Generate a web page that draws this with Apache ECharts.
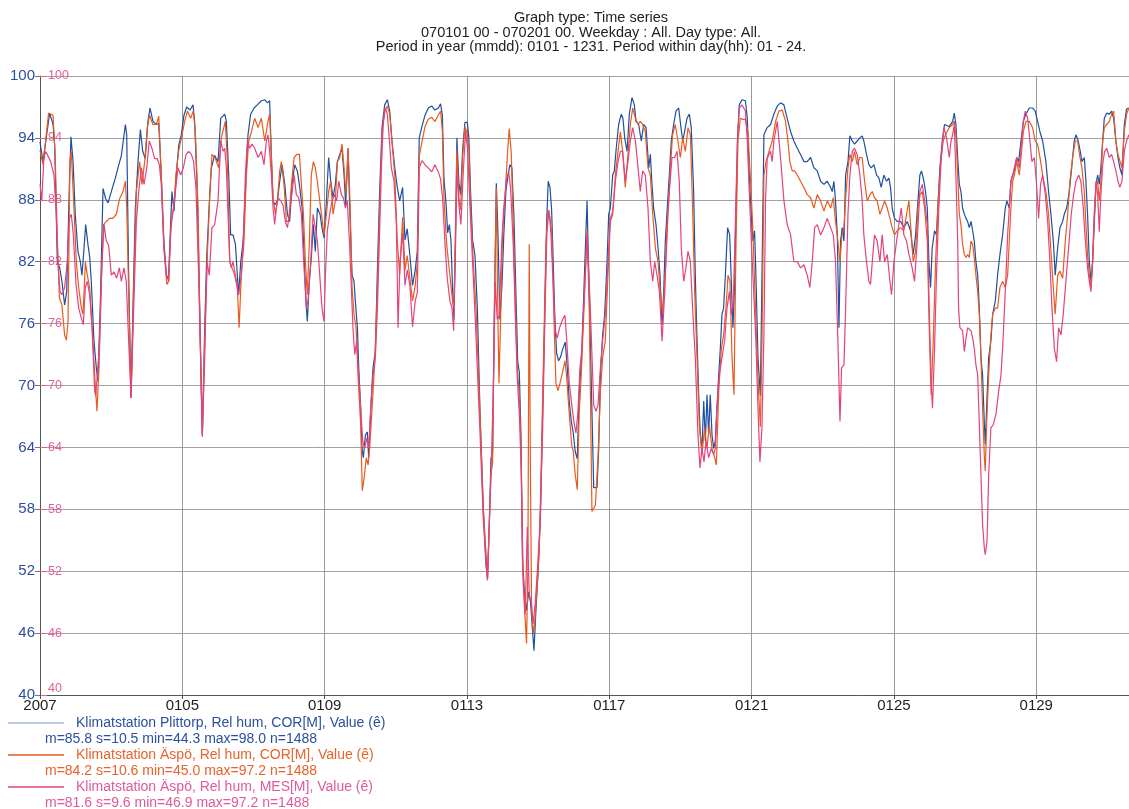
<!DOCTYPE html>
<html>
<head>
<meta charset="utf-8">
<script src="https://cdn.jsdelivr.net/npm/echarts@6/dist/echarts.min.js"></script>
<style>
html,body{margin:0;padding:0;background:#ffffff;overflow:hidden;}
#chart{width:1129px;height:809px;}
</style>
</head>
<body>
<div id="chart"></div>
<script>
// ---------- texts ----------
const titleLines = [
  'Graph type: Time series',
  '070101 00 - 070201 00. Weekday : All. Day type: All.',
  'Period in year (mmdd): 0101 - 1231. Period within day(hh): 01 - 24.'
];
const tickLabels = ['2007', '0105', '0109', '0113', '0117', '0121', '0125', '0129'];
const yTickValues = [40, 46, 52, 58, 64, 70, 76, 82, 88, 94, 100];
const seriesNames = [
  'Klimatstation Plittorp, Rel hum, COR[M], Value (\u00ea)',
  'Klimatstation \u00c4sp\u00f6, Rel hum, COR[M], Value (\u00ea)',
  'Klimatstation \u00c4sp\u00f6, Rel hum, MES[M], Value (\u00ea)'
];
const seriesStats = [
  'm=85.8 s=10.5 min=44.3 max=98.0 n=1488',
  'm=84.2 s=10.6 min=45.0 max=97.2 n=1488',
  'm=81.6 s=9.6 min=46.9 max=97.2 n=1488'
];

// ---------- data: [hours since 2007-01-01 00:00, relative humidity %] ----------
const plittorpCor = [
[0,93.6],[2,91.7],[6.5,96.4],[8.8,95.3],[9.9,93.3],[11.7,82],[13.3,81.4],[14.8,80.1],[16.6,77.8],[18,79.1],[20,90.4],[20.9,94.1],[22.3,91.7],[23.8,86.5],[25.6,83],[27.2,82],[28.3,80.7],[29.7,83.3],[30.8,85.6],[32.4,83.6],[33.5,82.5],[34.6,80.1],[36.4,74.3],[38,71.7],[39.1,70.4],[40.9,79.1],[42.5,89.1],[44.3,88.1],[45.9,87.7],[48.1,88.8],[50.8,90.1],[52.6,91.1],[54.9,92.3],[57.6,95.3],[58.5,94.3],[59.8,80.7],[61.4,68.8],[62.7,77.5],[64.3,87.2],[66.1,91.7],[67.7,94.8],[69.3,92.7],[71,92],[72.8,95.6],[74.2,96.9],[76.2,95.6],[78.5,95.3],[80.1,95.4],[81.8,90.4],[83.6,83.9],[85.4,80.4],[86.8,80.7],[88.1,85.6],[89,88.8],[90.4,86.9],[91.9,90.4],[93.6,93.3],[95.3,94.3],[97.1,96.2],[98.9,97],[101.2,96.7],[103.2,97.2],[104.3,95.6],[106.1,88.8],[107.7,77.5],[109.5,65.2],[111.1,75.6],[112.4,82.3],[114.5,88.5],[115.6,91.1],[117.8,92.3],[120.1,91.7],[121.9,95.9],
[124.6,96.3],[125.7,95.6],[127.3,90.4],[128.6,84.6],[130.2,84.6],[131.8,83.7],[133.1,80.7],[134,78.8],[135.4,82],[137,84],[138.5,88.8],[140.3,94.3],[142.1,96.3],[144.4,96.9],[146.6,97.2],[149.3,97.6],[151.6,97.7],[153.4,97.4],[154.9,97.6],[156.1,92.1],[157.2,87.9],[158.3,87.5],[160.1,87.9],[161.7,89.8],[163.3,91.4],[165.1,89.5],[166.9,86.6],[168.4,85.9],[170,89.5],[171.8,91.4],[173.6,90.8],[175.2,89.2],[176.8,87.2],[178.1,82.7],[179.4,78.2],[180.3,76.2],[181.7,80.1],[183,82.4],[184.4,85.6],[185.7,83],[187.1,87.2],[188.9,86.6],[190.2,85.3],[191.6,84.3],[193.2,87.9],[194.7,92.1],[196.1,89.8],[197.7,88.2],[199.2,89.5],[200.6,91.7],[202.2,92.4],[203.7,93],[205.1,90.4],[206.2,87.5],[207.8,93],[208.9,87.2],[210.5,80.7],[211.8,80.1],[212.7,78.2],[214.1,75.6],[215,71.7],[216.3,67.8],[217.2,63.9],[218.1,63],[219.5,65.2],[220.8,65.5],[221.7,63],[223.1,67.8],[224.6,71.7],[226.2,73.3],[227.5,80.7],[229.1,88.8],[230.7,95],[232.5,97.2],[234.3,97.7],[235.9,96.6],[237.4,93.7],[239.3,91.1],[241,89.2],[242.6,87.9],
[244.6,89.2],[246.2,84.1],[247.7,85.2],[249.5,82.6],[251.3,79.7],[253.1,81.2],[254.5,83],[255.8,94],[257.6,95.1],[259.7,96.2],[261.9,96.9],[264.2,97.1],[266.4,96.7],[268.7,96.9],[270.2,97.3],[271.4,96.2],[272.5,90],[273.8,87.8],[275,84.8],[276.1,85.6],[277.2,84.1],[278.3,79.3],[279.2,76.4],[280.3,83.7],[281.2,94],[282.6,89.6],[283.7,88.5],[285.1,92.9],[286.6,95.5],[288.2,95.5],[289.3,94],[290.5,88.5],[291.8,84.1],[293.4,82.6],[295,77.5],[296.8,67.3],[299,58.1],[300.8,52.6],[301.9,51.3],[303,56.3],[304.2,62.9],[305.3,63.6],[306.4,76.4],[307.8,89.6],[308.9,84.8],[310.2,76.4],[311.6,79.7],[312.9,84.8],[314.3,88.9],[315.6,90.3],[317,91.4],[318.3,91.1],[319.7,86.3],[321,79],[322.2,72.4],[323.3,71.3],[324.4,65.4],[325.5,53],[326.9,49.7],[328.2,48.2],[329.6,50],[330.9,49],[332,46.7],[333.2,44.3],[334.5,48.2],[336.1,52.2],[337.7,58.1],[339,67.3],[340.4,76.4],[341.7,85.6],[342.8,89.8],[344,89.2],[345.1,87],[346.2,81.9],[347.3,76.4],[348.5,73.1],[349.8,72.4],[351.2,72.8],[352.5,73.5],[354.3,74.2],[355.7,71.7],[357,68.4],[358.4,66.5],[359.7,65.4],[361,63.6],[362.4,62.9],[363.7,69.1],[365.3,72.8],
[369,87.9],[371.2,74.3],[373.5,60.1],[375.7,60.1],[376.8,63.6],[378,71],[379.5,74.9],[380.9,76.9],[382.5,82],[383.6,86.6],[384.7,87.2],[386.3,90.4],[387.4,90.8],[388.5,92.7],[390.3,95.3],[392.1,96.3],[393.2,95.9],[394.4,94],[396,92.7],[397.5,96.3],[399.3,97.9],[400.9,97.2],[402,95.6],[403.8,95.3],[405.6,93.7],[407.2,95.3],[408.8,95],[410.6,91.1],[411.7,92.4],[412.8,89.5],[413.9,87.2],[415.5,85.6],[416.9,83.3],[418.2,80.7],[419.6,75.9],[420.7,79.1],[421.8,84],[423.1,87.2],[424.5,90.4],[425.8,93.7],[427.4,95.3],[429,96.6],[430.8,96.9],[432.1,95.3],[433.5,93.7],[434.8,94.6],[436.4,95.9],[438,96.3],[439.3,95],[440.9,88.8],[442,80.7],[443.2,74.3],[444.3,69.1],[445.4,65.2],[446.5,63.9],[447.7,68.5],[448.8,64.6],[449.9,69.1],[451,65.2],[452.1,69.1],[453.3,65.2],[454.4,63.9],[455.5,64.6],[456.6,67.8],[457.8,71],[458.9,73.6],[460,76.9],[461.1,77.5],[462.3,80.7],[463.8,85.3],[465.2,84.6],[466.3,80.1],[467.4,75.6],[468.6,80.1],[469.5,87.2],[470.6,94.3],[471.7,97.2],[473.5,97.7],[475.8,97.6],[477.1,95.9],[478.4,90.4],[479.8,86.6],[480.9,84],[482,85],[482.9,80.7],[484.3,72.7],[485.9,69],[487,80.7],[488.3,94.3],
[490.5,95],[492.8,95.3],[495,96.3],[497.3,97.1],[499.5,97.4],[501.8,97.2],[504,95.9],[506.3,94.6],[508.5,93.7],[510.8,93],[513,92.4],[515.3,91.7],[517.5,91.7],[519.8,92.1],[522,91.1],[524.3,90.8],[526.5,89.8],[528.8,89.5],[531,89.8],[533.3,89.2],[534.4,88.8],[535.5,89.8],[536.6,87.9],[537.8,84.6],[538.9,75.6],[540,84],[541.1,85.3],[542.3,84],[543.4,90.4],[545,91.7],[546.3,94.2],[547.9,93.7],[549.4,93.4],[551.2,93.7],[553,94],[554.6,94.2],[555.7,93.7],[557.5,92.4],[559.1,91.4],[560.7,91.1],[562.5,91.4],[564.3,90.4],[565.9,90.1],[567.4,89.2],[569.2,90.4],[571,89.8],[572.6,90.1],[573.7,89.2],[574.8,87.2],[576.4,86.2],[578.2,85.9],[580.5,85.9],[582.7,85.3],[585,85.9],[587.2,85],[589,82.7],[590.6,84.6],[592.2,87.9],[593.5,90.4],[594.6,90.8],[596.2,89.8],[597.3,88.8],[598.5,87.2],[599.6,82],[600.7,79.5],[601.8,83.3],[603.4,85],[604.7,84.6],[605.6,87.2],[607,91.1],[608.6,93.7],[610.1,95.3],
[611.1,95.3],[613.3,95.1],[615.6,95.6],[616.7,96.4],[617.8,95.3],[619,92.1],[620.1,89.5],[621.2,88.8],[622.3,87.2],[623.5,86.6],[624.6,86.2],[625.7,85.9],[626.8,85.3],[628,85.9],[629.1,85],[630.2,84],[631.3,82],[632.5,80.7],[633.6,77.5],[634.7,72.7],[635.8,71],[637,66.2],[637.6,64.3],[638.5,67.8],[639.9,72.7],[641.4,74.3],[642.6,76.9],[644.4,78.2],[645.9,80.7],[647.5,82.7],[649.3,84.6],[651.1,87.2],[652.2,87.9],[653.8,87.2],[654.9,89.8],[656.1,90.4],[657.2,90.8],[658.8,92.1],[660.1,91.7],[661.7,93.7],[663.3,95.6],[665,96.3],[667.3,96.9],[669.5,96.9],[671.3,96.6],[672.9,95.6],[674.5,94.6],[676.3,93.7],[678.5,91.7],[680.3,88.8],[681.9,86.6],[683.5,84],[684.8,80.7],[686.4,83.3],[688,85.3],[689.8,85.9],[690.9,86.6],[692.5,87.2],[694.3,88.8],[696.1,91.4],[697.6,93.7],[698.8,94.3],[700.3,93.7],[701.7,92.7],[702.8,91.7],[704.4,92.1],[705.5,89.8],[706.6,86.6],[707.8,82],[708.9,80.1],[710,82],[711.1,85.6],[712.3,89.5],[713.4,90.4],[714.5,89.5],[715.6,91.1],[716.8,93.7],[717.9,95.9],[719.5,96.4],[721.3,96.3],[722.8,96.6],[724.2,95.9],[725.7,93.7],[727.1,92.1],[728.4,91.1],[729.8,90.4],[731.4,95.3],[732.9,96.8],[734.5,96.9]
];

const aspoCor = [
[0,92.8],[2,91.4],[5.8,96.4],[8.8,96.2],[10.3,92],[11.7,84],[13.1,78.5],[14.8,77.8],[16.6,74.9],[17.8,74.4],[18.9,76.2],[20.2,91.7],[21.1,92.7],[22.9,87.2],[24.5,82],[26.1,79.5],[27.9,77.5],[29,76.9],[30.6,82],[31.9,80.7],[33.5,79.5],[35.1,75.9],[36.9,71],[38.4,67.5],[39.8,71.7],[41.4,80.1],[42.9,85.6],[44.7,85.9],[46.9,86.2],[49.2,86.2],[51.5,86.6],[53.7,88.1],[56,88.8],[57.6,89.8],[58.5,87.2],[59.8,79.1],[61.4,68.8],[63.2,79.1],[65,88.8],[67.2,91.7],[68.8,89.5],[70.6,91.7],[72.4,95],[73.9,96.2],[76.2,95.3],[78.5,95.3],[80.1,96.1],[81.8,90.4],[83.6,83.3],[85.6,79.8],[86.8,80.1],[88.6,86.2],[90.2,87.2],[91.7,90.4],[93.5,92.7],[95.8,94.3],[97.6,95.6],[99.4,96.6],[101.6,95.9],[103.4,96.6],[104.8,94.6],[106.6,87.2],[108.1,74.3],[109.5,65],[111.1,74.3],[112.9,82.7],[114.6,88.8],[116,92.4],[118.3,92],[120.5,91.1],[122.3,94],
[125,95.6],[126.4,91.7],[128,82],[129.5,81.4],[131.3,80.7],[133.1,79.5],[134.3,75.6],[135.8,80.7],[137.6,84],[139.2,90.4],[140.8,93.7],[142.6,94.6],[144.8,95.9],[147.1,95],[149.3,95.9],[151.6,93.7],[153.4,95.3],[154.9,96.3],[156.1,92.1],[157.2,88.2],[158.8,86.6],[160.1,87.9],[161.7,90.8],[162.8,91.7],[164.6,89.5],[166.2,85.9],[167.8,85.9],[169.6,89.5],[171.4,92.1],[173.2,92.4],[175,92.4],[176.3,89.5],[177.7,86.6],[179,82],[180.3,78.8],[181.7,84],[183,90.4],[184.4,91.7],[185.7,91.1],[187.1,89.8],[188.7,87.9],[190.2,86.2],[191.6,84.6],[193.2,86.6],[194.7,88.8],[196.1,89.8],[197.7,86.6],[199.2,87.9],[200.6,91.7],[202.2,92.1],[203.7,93.4],[205.1,91.1],[206.4,88.5],[207.8,93],[209.1,87.9],[210.5,79.5],[211.8,76.9],[213.2,75.6],[214.5,71],[216.3,66.2],[217.4,59.8],[218.6,61],[220.1,63],[221.3,62.3],[222.4,64],[224,67.8],[225.8,72.3],[227.5,79.1],[229.1,87.2],[230.7,94.3],[232.5,96.6],[234.3,97.1],[235.9,96.3],[237.4,93.7],[239.3,90.4],[241,84],[242.6,80.7],
[244.6,86.3],[246.2,81.2],[247.7,82.6],[249.5,80.4],[251.3,78.2],[253.1,79.7],[254.5,81.9],[255.8,92.2],[257.6,93.6],[259.7,95.1],[261.9,95.8],[264.2,96],[266.4,95.6],[268.7,96.2],[270.2,96.6],[271.4,94.7],[272.5,88.1],[274.3,83.7],[276.1,81.2],[277.2,79.7],[278.3,78.2],[279.2,77.5],[280.3,85.6],[281.2,92.9],[282.6,88.1],[283.7,87],[285.1,92.2],[286.6,95.1],[288.2,94.4],[289.3,92.9],[290.5,87],[292.3,81.9],[294.1,77.5],[296.8,67.3],[299,58.1],[301.9,51.3],[303,56.3],[304.2,61.4],[305.3,62.5],[306.4,76.4],[307.8,89.2],[308.7,78.2],[309.6,70.2],[310.7,76.4],[312,84.8],[313.6,88.1],[315.2,92.2],[316.5,94.9],[317.9,92.5],[319.2,85.6],[320.6,78.2],[321.9,71.7],[323.3,69.1],[324.4,64.3],[325.5,52.6],[326.9,48.2],[328.2,45],[329.1,52.6],[330,83.7],[330.7,63.6],[331.6,48.2],[332.7,46],[333.8,47.1],[335.4,50.8],[336.8,54.1],[338.3,63.6],[339.9,74.6],[341.3,83.7],[342.6,87],[344,86.3],[345.3,84.5],[346.7,76.4],[348,70.2],[349.4,69.5],[350.7,70.2],[352.5,71.3],[354.1,72.4],[355.2,70.9],[357,67.3],[358.6,64.3],[359.7,63.6],[361,61.4],[362.4,59.9],[363.7,67.3],[365.3,71.7],
[369,85],[370.5,77.5],[372.3,57.8],[374.6,58.4],[376.4,63],[378,69.4],[379.5,72.7],[381.3,74.3],[383.1,80.7],[384.7,85.9],[386.3,86.6],[388.1,90.4],[389.9,92.7],[391.5,94.6],[393,92.7],[394.8,89.2],[396.6,92.4],[398.2,95.3],[399.8,96.9],[401.6,95.9],[403.4,95.3],[404.9,95.6],[406.5,95.3],[408.3,94.6],[410.1,91.1],[411.7,90.4],[413.3,86.6],[415.1,83.3],[416.9,82],[418.4,79.1],[420,76.9],[421.8,80.7],[423.6,86.6],[425.2,91.1],[426.7,94.3],[428.5,95.3],[430.3,93.7],[431.9,92.1],[433.5,94],[435.3,92.7],[437.1,95],[438.7,94.3],[440.2,87.2],[441.6,79.1],[443.2,72.7],[444.7,66.2],[446.5,63.3],[448.3,65.9],[449.9,63.9],[451.5,66.2],[453.3,63.9],[455.1,63],[456.2,62.3],[457.8,69.4],[459.6,73.6],[461.1,74.9],[462.7,77.5],[464.1,80.7],[465.4,80.1],[466.8,72.7],[468.1,69.1],[469.5,84],[470.8,93.7],[472.4,95.9],[474,95.8],[475.8,95.8],[477.5,94.6],[479.1,90.4],[480.7,85.6],[482,80.1],[483.4,74.3],[484.7,69.4],[485.9,66],[487,74.3],[488.3,90.4],[489.7,91.7],
[491.7,92.7],[493.9,93.7],[496.2,95.6],[498.4,96.6],[500.7,96.7],[502.9,95.6],[504.5,93.7],[505.8,91.7],[507.4,90.8],[509,90.8],[510.8,90.4],[513,89.8],[515.3,89.2],[517.5,88.5],[519.8,88.2],[522,87.2],[524.3,88.5],[526.5,87.9],[528.8,86.9],[531,87.9],[533.3,87.2],[535.1,88.2],[536.6,85.9],[538.2,84],[539.6,82],[540.9,84.6],[542.3,85.3],[543.6,88.5],[545,91.1],[546.3,92.4],[547.9,91.7],[549.4,92.7],[551.2,91.4],[553,92.1],[554.6,92.1],[556.2,89.8],[558,87.9],[559.8,88.5],[561.4,88.8],[562.9,88.2],[564.7,87.9],[566.5,86.6],[568.1,87.2],[569.7,87.9],[571.5,87.2],[573.3,86.2],[574.8,85.3],[576.4,84.6],[578.2,85],[580.5,85.3],[582.7,85],[584.5,86.6],[586.1,87.9],[587.2,85.6],[589,82],[590.6,83],[592.2,87.2],[593.5,88.5],[595.1,88.8],[596.7,87.2],[598.5,84],[599.8,75.6],[601.1,69.1],[602.5,74.3],[604.1,82],[605.6,87.2],[607.4,91.4],[609.2,93.7],[610.8,94.3],
[613.3,95],[615.6,95.3],[616.7,95.6],[617.8,94.3],[619,90.4],[620.1,86.6],[621.2,85.6],[622.3,83.7],[623.5,82.7],[624.6,82.4],[625.7,82.7],[626.8,82.4],[628,84],[629.1,83.7],[630.2,82.4],[631.3,80.7],[632.5,79.1],[633.6,76.9],[634.7,72.7],[635.8,67.8],[637,63],[637.6,61.7],[638.5,66.2],[639.9,71],[641.4,74.9],[642.6,76.9],[644.4,77.5],[645.9,77.5],[647.5,79.5],[649.3,80.1],[651.1,79.5],[652.7,80.7],[653.8,84],[654.9,87.2],[656.1,89.8],[657.2,90.4],[658.8,91.7],[660.6,90.4],[661.7,92.1],[663.3,94.6],[665,95.6],[667.3,95.6],[669.5,95],[671.3,93.7],[672.9,93.4],[674.5,92.1],[676.3,90.4],[678.5,88.8],[680.3,86.6],[681.9,83],[683.5,79.5],[684.8,76.9],[686.4,80.7],[688,81.1],[689.8,80.4],[691.6,84],[693.2,86.6],[694.7,89.8],[696.5,92.1],[698.3,93.7],[699.9,93.7],[701.5,92.1],[702.8,91.1],[704.4,88.8],[705.5,85.6],[706.6,82.7],[707.8,80.7],[708.9,79.5],[710,82],[711.1,86.2],[712.3,89.5],[713.4,89.8],[714.5,87.9],[715.6,89.8],[716.8,93.7],[717.9,95],[719.5,95.3],[721.3,95.6],[722.8,96.3],[724.2,96.6],[725.7,93.7],[727.1,92.4],[728.4,92.4],[729.8,91.1],[731.4,94.6],[732.9,96.3],[734.5,96.9]
];

const aspoMes = [
[0,89.5],[1.2,87.9],[2.5,91.7],[3.5,92.7],[4.9,92.4],[7.2,91.7],[9.4,90.4],[11,86.6],[12.1,82],[13.5,79.1],[14.8,78.8],[16.6,79.5],[18.4,82],[19.8,86.2],[21.1,86.6],[22.5,84.6],[24.3,79.8],[26.1,77.5],[27.9,76.5],[29.2,75.9],[30.6,79.5],[31.9,80.1],[33.5,78.8],[35.1,75.6],[36.9,69.4],[37.6,69],[40,73.6],[41.8,82],[43.2,85.6],[44.7,84],[46.3,83.6],[48.1,80.7],[49.9,81],[51.7,80.4],[53.5,81.4],[54.9,80.1],[56.6,81.4],[58.2,80.1],[59.8,74.3],[61.4,68.8],[63.2,77.5],[65,85.9],[66.8,89.1],[68.4,91.1],[70.2,89.5],[72,91.1],[73.7,93.7],[75.5,93],[77.3,92],[79.1,92],[80.5,91.4],[81.8,89.5],[83.6,83.3],[85.2,80.7],[86.8,80.1],[88.1,84.9],[89.5,86.6],[91.3,88.8],[93.1,91.1],[94.9,90.4],[96.7,91.1],[98.5,92.4],[100.3,92.7],[102.1,92.4],[103.6,91.7],[105.2,89.1],[107,80.7],[108.3,72.7],[109.5,65.2],[111.1,72.7],[112.6,82],[114.2,80.7],[116,85.3],[117.8,85.6],[120.1,87.9],
[121.9,93.7],[123.5,92.7],[124.6,93],[125.7,91.1],[126.8,86.6],[128,82],[129.1,81.4],[130.2,82],[131.3,81.1],[132.5,80.1],[133.6,78.8],[134.7,79.5],[135.8,80.7],[137.2,84],[138.5,90.4],[139.9,93.7],[141.5,93],[143,93.4],[144.8,93],[147.1,92.1],[149.3,92.7],[151.1,91.4],[152.7,93.7],[153.8,94.3],[154.9,92.7],[156.1,90.4],[157.2,87.2],[158.3,85.6],[159.4,87.2],[160.6,88.2],[162.4,87.9],[163.9,87.5],[165.5,85.9],[166.9,85.3],[168.2,86.6],[169.6,88.2],[171.4,90.4],[172.9,88.5],[174.5,88.2],[176.3,86.6],[178.1,81.4],[179.7,77.5],[180.8,78.2],[182.6,82],[184.2,86.6],[185.7,85.3],[187.1,84],[188.7,80.7],[190.2,77.5],[191.6,76.2],[192.5,80.7],[193.8,85],[195.4,86.6],[197,87.9],[198.8,88.5],[200.1,87.9],[201.5,89.8],[203.3,88.5],[204.6,88.2],[206,87.2],[207.3,87.9],[208.7,84],[210,79.5],[211.1,75.6],[212.3,73],[213.6,74.3],[215,71],[216.3,67.8],[217.7,64.6],[219,63.9],[220.4,64.9],[221.7,63.9],[223.1,67.8],[224.6,71],[226.2,72.7],[227.6,77.5],[228.9,84],[230.3,91.1],[231.6,95.6],[233,96.9],[234.3,96.3],[235.7,93.7],[237,91.1],[238.8,89.8],[240.4,85.6],[241.5,75.6],[242.8,82],
[244.6,84.8],[246.2,79.7],[247.7,81.2],[249.5,79.7],[251.3,75.7],[253.1,78.2],[254.5,79],[255.8,91.1],[257.6,91.8],[259.7,91.4],[261.9,91.1],[264.2,90.7],[266.4,91.4],[268.7,90.7],[270.2,90],[271.6,88.1],[273.2,83.7],[274.7,80.4],[276.5,78.2],[277.9,77.5],[279,75.3],[280.3,84.8],[281.5,91.1],[282.6,87.4],[283.9,85.6],[285.5,90.7],[287.1,94.7],[288.4,92.9],[290,87.4],[291.8,81.9],[293.6,76.4],[296.8,65.4],[299,57],[301.7,51.1],[303,56.3],[304.2,61.4],[305.7,69.1],[307.1,80.1],[308.4,76.4],[309.8,76.8],[311.4,83.7],[312.9,87.4],[314.7,90],[316.1,90.7],[317.4,89.2],[319.2,83.7],[320.6,76.8],[321.9,70.9],[323.3,67.3],[324.6,61.8],[326,50.8],[327.3,47.8],[328.7,56.3],[330,49.7],[331.4,49],[332.7,46.9],[334.1,49],[335.4,51.9],[337.2,56.3],[339,65.4],[340.6,76.8],[341.9,84.8],[343.3,87],[344.6,84.8],[346.2,79.7],[347.6,75.3],[348.9,74.6],[350.7,75.7],[352.5,76.4],[354.1,76.8],[355.2,74.6],[357,70.2],[358.8,68],[360.1,66.5],[361.5,65.4],[362.8,67.3],[364.2,71.7],[365.5,73.5],
[369,84.6],[371.2,77.5],[373.5,68.1],[375,67.5],[376.4,68.1],[378,71.7],[379.5,74.3],[381.3,76.9],[383.1,82],[384.7,86.2],[386.3,86.9],[388.1,89.8],[389.9,91.7],[391.5,92.7],[393,92.7],[394.8,89.8],[396.6,91.7],[398.2,93.7],[399.8,95],[401.6,93.7],[403.4,91.1],[404.9,88.8],[406.5,90.8],[408.3,90.4],[410.1,87.2],[411.7,82],[413.3,80.1],[414.6,82],[416.2,80.7],[417.8,79.1],[419.6,74.3],[421.4,79.1],[422.9,85.6],[424.5,88.8],[426.3,92.1],[428.1,92.1],[429.7,92.7],[431.2,89.8],[432.6,83.3],[434.2,80.1],[435.7,81.4],[437.1,83],[438.7,82],[440.2,77.5],[442,72.7],[443.8,65.2],[445.2,62],[446.5,63.9],[447.9,62.6],[449.2,64.6],[451,63],[452.8,63.9],[454.4,63.3],[455.5,63.9],[456.6,67.8],[458.2,71],[460,72.7],[461.8,74.3],[463.4,77.5],[465,79.1],[466.3,76.9],[467.7,78.2],[469,85.6],[470.4,93.7],[471.7,96.9],[473.5,97.2],[475.8,96.6],[477.1,93.7],[478.4,88.8],[479.8,84],[481.4,79.1],[482.9,74.3],[484.3,67.8],[485.6,62.6],[487,66],[488.3,75],[489.4,88],[490.5,92],
[492.8,92.7],[493.9,91.7],[495,93.7],[497.3,95.6],[498.4,95.6],[499.5,92.1],[501.8,87.9],[504,85.6],[506.3,84.6],[508.5,82],[510.8,82],[513,81.4],[515.3,81.7],[517.5,80.7],[519.3,79.5],[520.9,82],[522.5,85.3],[524.3,85.6],[526.5,84.6],[528.8,85.3],[531,86.2],[533.3,85.3],[535.1,84.6],[536.6,82],[538.2,74.3],[539.6,66.5],[540.7,71.7],[542.3,72],[543.4,77.5],[545,86.6],[546.3,90.4],[547.9,92.7],[549.4,93],[551.2,92.4],[553,90.4],[554.6,87.9],[555.7,84.6],[557.5,82],[559.1,80.1],[560.2,79.8],[561.4,82],[562.9,84.6],[564.7,84],[566.5,82],[568.1,84.6],[569.7,82],[571.5,82.7],[573.3,80.1],[574.4,78.8],[576,82],[577.8,84],[579.3,85.6],[580.9,87.2],[582.7,84.6],[584.5,84],[586.1,82.7],[588.3,81.4],[589.9,80.1],[591.7,84],[593.5,88.8],[595.1,89.5],[596.7,87.9],[598.5,85.6],[599.8,77.5],[601.1,70.4],[602,67.8],[603.4,73.6],[604.7,80.7],[606.3,87.2],[607.9,92.1],[609.7,95],[611.5,94],
[613.3,92.1],[614.5,93.7],[615.6,94.3],[616.7,95.3],[617.8,90.4],[619,84],[619.6,77.5],[620.5,75.6],[622.3,75.3],[623.5,73.3],[624.6,74.6],[625.7,75.6],[626.8,75.6],[628,75.3],[629.1,74.6],[630.2,73.6],[631.3,72],[632.5,71],[633.6,66.2],[634.7,61.3],[635.8,56.5],[637,54.2],[637.6,53.6],[638.8,54.9],[639.9,61.3],[641.4,65.9],[643,66.2],[644.8,67.2],[646.6,69.4],[648.2,71],[649.3,73.6],[650.4,76.9],[651.6,80.7],[652.7,84.6],[653.8,87.2],[654.9,89.8],[656.1,90.4],[657.2,91.1],[658.8,92.1],[660.6,91.1],[661.7,93],[663.3,95.6],[664.6,96.6],[666.2,95.9],[667.7,93.7],[669.1,91.7],[670.7,92.1],[672.2,89.5],[673.6,86.2],[674.9,89.5],[676.3,90.4],[678.1,88.5],[679.7,85.9],[681.2,82],[682.6,77.5],[684.2,73.6],[685.7,72.3],[687.1,75.6],[688.7,74.9],[690.2,76.9],[692,80.1],[693.8,83.3],[695.6,86.6],[697.2,88.5],[698.8,89.8],[700.6,90.4],[702.1,89.8],[703.7,87.2],[705.1,84],[706.6,81.4],[707.8,80.1],[708.9,79.1],[710,82],[711.1,86.6],[712.3,89.8],[713.4,88.5],[714.5,84.9],[715.6,88.5],[716.8,91.4],[718.1,92.7],[719.5,93],[721.3,92.1],[722.8,92.4],[724.2,91.7],[725.7,90.8],[727.1,89.8],[728.4,89.2],[729.8,89.8],[731.4,92.7],[732.9,93.7],[734.5,94.3]
];

// ---------- styling ----------
const FONT = 'Liberation Sans, Arial, sans-serif';
const lineColors = ['#1f4f9f', '#e85a1e', '#e3437f'];
const legendLineColors = ['#a9b7dc', '#e85a1e', '#e3437f'];
const legendTextColors = ['#2c4fa0', '#e8622a', '#de5a9e'];
const blueLabel = '#2c4e9e';
const pinkLabel = '#e0609c';

const chart = echarts.init(document.getElementById('chart'), null, {renderer: 'canvas'});

const legendGraphics = [];
seriesNames.forEach(function (name, i) {
  const y = 723 + i * 32;
  legendGraphics.push({
    type: 'line', silent: true,
    shape: {x1: 8, y1: y, x2: 64, y2: y},
    style: {stroke: legendLineColors[i], lineWidth: 1.5}
  });
  legendGraphics.push({
    type: 'text', silent: true, x: 76, y: y,
    style: {text: name, fill: legendTextColors[i], font: '14px ' + FONT, verticalAlign: 'middle'}
  });
  legendGraphics.push({
    type: 'text', silent: true, x: 45, y: y + 16,
    style: {text: seriesStats[i], fill: legendTextColors[i], font: '14px ' + FONT, verticalAlign: 'middle'}
  });
});

const option = {
  backgroundColor: '#ffffff',
  animation: false,
  // the plotting area runs on past the right edge of the picture (up to 0201 00)
  grid: {left: 40, width: 1103, top: 76, height: 619, containLabel: false, outerBoundsMode: 'none'},
  graphic: [{
    type: 'text', silent: true, x: 591, y: 11,
    style: {text: titleLines.join('\n'), fill: '#222222', font: '14.5px ' + FONT,
            textAlign: 'center', lineHeight: 14.5}
  }].concat(legendGraphics),
  xAxis: {
    type: 'value', min: 0, max: 744, interval: 96,
    axisLine: {show: true, lineStyle: {color: '#555555', width: 1}},
    axisTick: {show: true, length: 4, lineStyle: {color: '#555555'}},
    axisLabel: {
      color: '#222222', fontSize: 15, fontFamily: FONT, margin: 3,
      formatter: function (v) { return v % 96 === 0 ? tickLabels[v / 96] : ''; }
    },
    splitLine: {show: true, lineStyle: {color: '#9a9a9a', width: 1}}
  },
  yAxis: [{
    type: 'value', position: 'left', min: 40, max: 100, interval: 6,
    axisLine: {show: true, lineStyle: {color: '#555555', width: 1}},
    axisTick: {show: true, length: 5, lineStyle: {color: '#777777'}},
    axisLabel: {color: blueLabel, fontSize: 15, fontFamily: FONT, margin: 5,
      formatter: function (v) { return yTickValues.indexOf(v) >= 0 ? String(v) : ''; }},
    splitLine: {show: true, lineStyle: {color: '#a0a0a0', width: 1}}
  }, {
    type: 'value', position: 'left', offset: 0, min: 40, max: 100, interval: 6,
    axisLine: {show: false},
    axisTick: {show: true, inside: true, length: 7, lineStyle: {color: pinkLabel}},
    axisLabel: {inside: true, color: pinkLabel, fontSize: 12.5, fontFamily: FONT, margin: 8,
      verticalAlignMinLabel: 'bottom',
      formatter: function (v) { return yTickValues.indexOf(v) >= 0 ? String(v) : ''; }},
    splitLine: {show: false}
  }],
  series: [
    {name: seriesNames[0], type: 'line', data: plittorpCor, showSymbol: false, symbol: 'none',
     lineStyle: {color: lineColors[0], width: 1.2}, itemStyle: {color: lineColors[0]}, z: 2},
    {name: seriesNames[1], type: 'line', data: aspoCor, showSymbol: false, symbol: 'none',
     lineStyle: {color: lineColors[1], width: 1.2}, itemStyle: {color: lineColors[1]}, z: 3},
    {name: seriesNames[2], type: 'line', data: aspoMes, showSymbol: false, symbol: 'none',
     lineStyle: {color: lineColors[2], width: 1.2}, itemStyle: {color: lineColors[2]}, z: 4}
  ]
};
chart.setOption(option);
</script>
</body>
</html>
